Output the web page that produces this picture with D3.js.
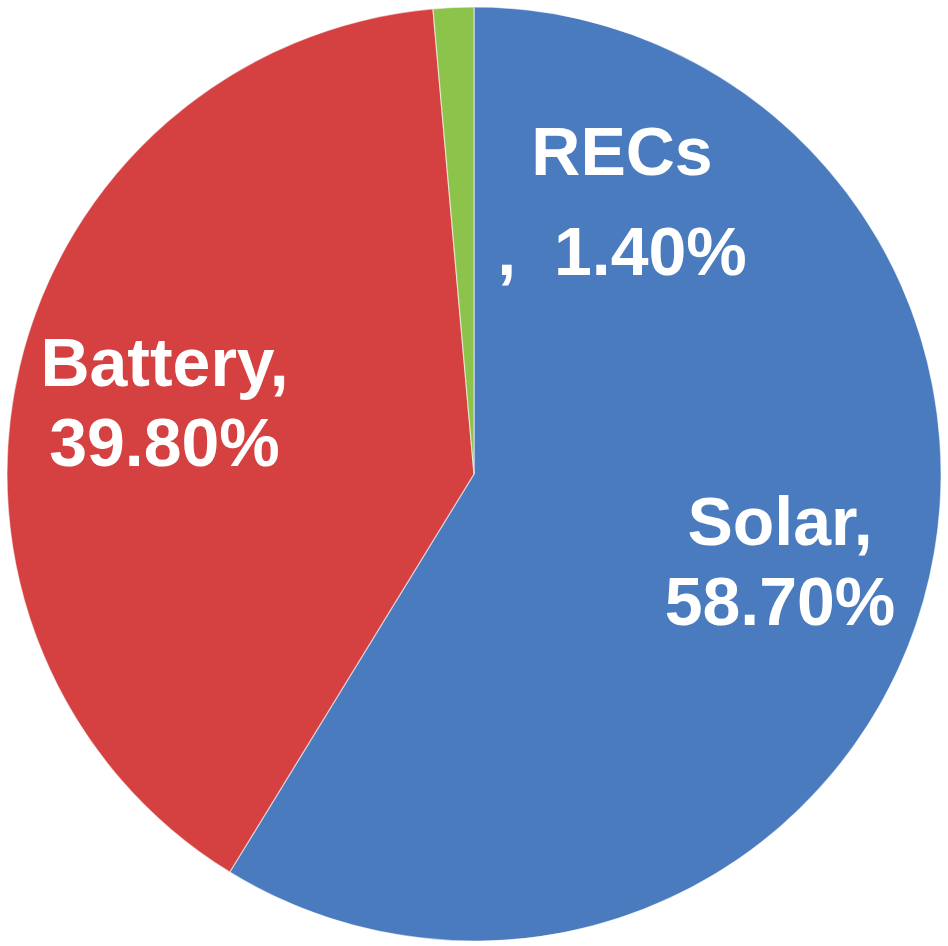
<!DOCTYPE html>
<html>
<head>
<meta charset="utf-8">
<script src="https://cdn.jsdelivr.net/npm/d3@7"></script>
<style>
  html, body { margin: 0; padding: 0; background: #fff; }
  svg { display: block; }
  text { font-family: "Liberation Sans", Arial, Helvetica, sans-serif; font-weight: bold; fill: #fff; }
</style>
</head>
<body>
<svg id="chart" width="948" height="946"></svg>
<script>
// Share of spending by category (percent)
const categories = ["Solar", "Battery", "RECs"];
const shares = [58.7, 39.8, 1.4];
const valueLabels = ["58.70%", "39.80%", "1.40%"];
const colors = ["#4a7bbe", "#d54040", "#8cc34b"];

const width = 948, height = 946;
const cx = 474, cy = 474, radius = 467;

const svg = d3.select("#chart");
const g = svg.append("g").attr("transform", `translate(${cx},${cy})`);

const pie = d3.pie().sort(null).value(d => d.value);
const data = categories.map((c, i) => ({ name: c, value: shares[i], label: valueLabels[i], color: colors[i] }));
const arcs = pie(data);

const arc = d3.arc().innerRadius(0).outerRadius(radius);

g.selectAll("path.slice")
  .data(arcs)
  .enter().append("path")
  .attr("class", "slice")
  .attr("d", arc)
  .attr("fill", d => d.data.color)
  .attr("stroke", "#ffffff")
  .attr("stroke-opacity", 0.55)
  .attr("stroke-width", 1.2);

// Labels for the two large slices sit on the slice centroid
const labelArc = d3.arc().innerRadius(318).outerRadius(318);
const fontSize = 68;

arcs.forEach(d => {
  let x, y1, y2, line2;
  if (d.data.name === "RECs") {
    // small slice: label pulled out into the neighbouring slice
    const [ax] = labelArc.centroid(d);
    x = ax + 162;
    y1 = 175 - cy;
    y2 = 275 - cy;
    line2 = ",  " + d.data.label;
    g.append("text").attr("x", x).attr("y", y1).attr("text-anchor", "middle")
      .attr("font-size", fontSize).text(d.data.name);
  } else {
    const [ax, ay] = labelArc.centroid(d);
    x = ax; y1 = ay - 15; y2 = ay + 65;
    line2 = d.data.label;
    g.append("text").attr("x", x).attr("y", y1).attr("text-anchor", "middle")
      .attr("font-size", fontSize).text(d.data.name + ",");
  }
  g.append("text").attr("x", x).attr("y", y2).attr("text-anchor", "middle")
    .attr("font-size", fontSize).style("white-space", "pre").text(line2);
});
</script>
</body>
</html>
